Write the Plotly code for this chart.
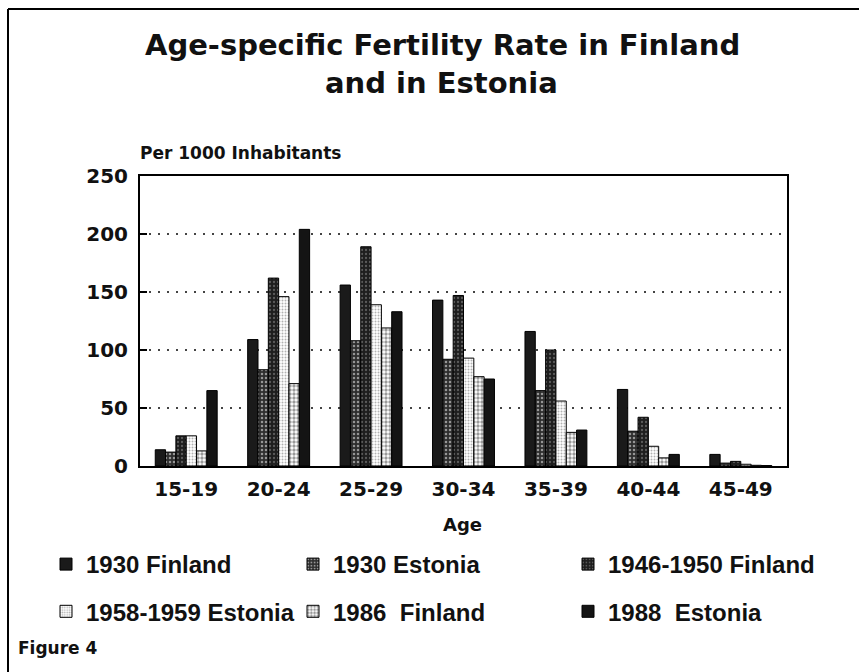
import plotly.graph_objects as go

ages = ["15-19", "20-24", "25-29", "30-34", "35-39", "40-44", "45-49"]
fin_1930 = [14, 109, 156, 143, 116, 66, 10]
est_1930 = [12, 83, 108, 92, 65, 30, 2.5]
fin_1946_1950 = [26, 162, 189, 147, 100, 42, 4]
est_1958_1959 = [26, 146, 139, 93, 56, 17, 1.5]
fin_1986 = [13, 71, 119, 77, 29, 7, 0.6]
est_1988 = [65, 204, 133, 75, 31, 10, 0.4]

series = [
    ("1930 Finland", fin_1930),
    ("1930 Estonia", est_1930),
    ("1946-1950 Finland", fin_1946_1950),
    ("1958-1959 Estonia", est_1958_1959),
    ("1986  Finland", fin_1986),
    ("1988  Estonia", est_1988),
]

styles = [
    dict(color="#1a1a1a"),
    dict(color="#3a3a3a", pattern=dict(shape=".", bgcolor="#2e2e2e", fgcolor="#ffffff", size=4, solidity=0.3)),
    dict(color="#222222", pattern=dict(shape=".", bgcolor="#1e1e1e", fgcolor="#9a9a9a", size=4, solidity=0.25)),
    dict(color="#dddddd", pattern=dict(shape=".", bgcolor="#ffffff", fgcolor="#666666", size=3, solidity=0.35)),
    dict(color="#888888", pattern=dict(shape=".", bgcolor="#ffffff", fgcolor="#333333", size=4, solidity=0.55)),
    dict(color="#141414"),
]
legend_ids = ["legend", "legend2", "legend3", "legend", "legend2", "legend3"]

FONT = "DejaVu Sans"
LFONT = "Liberation Sans"
fig = go.Figure()
for i, ((name, vals), st) in enumerate(zip(series, styles)):
    marker = dict(color=st["color"], line=dict(color="black", width=1))
    if "pattern" in st:
        marker["pattern"] = st["pattern"]
    fig.add_trace(go.Bar(
        x=ages, y=vals, name=name, marker=marker,
        legend=legend_ids[i], legendgroup="g%d" % i,
    ))

W, H = 859, 672
L, R, T, B = 140, 72, 176, 206
pw, ph = W - L - R, H - T - B

def px(x):
    return (x - L) / pw

def py(y):
    return (H - B - y) / ph

leg_common = dict(
    orientation="v", yanchor="top", xanchor="left",
    font=dict(family=LFONT, size=24, color="#111", weight="bold"),
    bgcolor="rgba(0,0,0,0)", tracegroupgap=13, traceorder="grouped",
)
fig.update_layout(
    width=W, height=H,
    margin=dict(l=L, r=R, t=T, b=B),
    paper_bgcolor="white", plot_bgcolor="white",
    barmode="group", bargap=0.33, bargroupgap=0,
    font=dict(family=FONT, color="#111"),
    legend=dict(x=px(46), y=py(542), **leg_common),
    legend2=dict(x=px(293), y=py(542), **leg_common),
    legend3=dict(x=px(568), y=py(542), **leg_common),
    xaxis=dict(
        showline=True, linecolor="black", linewidth=2, mirror=True,
        ticks="", tickfont=dict(family=FONT, size=20, color="#111", weight="bold"),
        ticklabelstandoff=4,
    ),
    yaxis=dict(
        range=[0, 250], tickvals=[0, 50, 100, 150, 200, 250],
        showline=True, linecolor="black", linewidth=2, mirror=True,
        ticks="inside", ticklen=7, tickwidth=2, tickcolor="black",
        showgrid=True, gridcolor="#444", gridwidth=2, griddash="2px,7px",
        tickfont=dict(family=FONT, size=20, color="#111", weight="bold"),
        ticklabelstandoff=6, zeroline=False,
    ),
)

fig.add_annotation(text="<b>Age-specific Fertility Rate in Finland</b>", xref="paper", yref="paper",
                   x=px(442), y=py(45), xanchor="center", yanchor="middle",
                   showarrow=False, font=dict(family=FONT, size=29, color="#111"))
fig.add_annotation(text="<b>and in Estonia</b>", xref="paper", yref="paper",
                   x=px(441), y=py(83), xanchor="center", yanchor="middle",
                   showarrow=False, font=dict(family=FONT, size=29, color="#111"))
fig.add_annotation(text="<b>Per 1000 Inhabitants</b>", xref="paper", yref="paper",
                   x=px(138), y=py(153), xanchor="left", yanchor="middle",
                   showarrow=False, font=dict(family=FONT, size=17, color="#111"))
fig.add_annotation(text="<b>Age</b>", xref="paper", yref="paper",
                   x=px(462), y=py(524), xanchor="center", yanchor="middle",
                   showarrow=False, font=dict(family=FONT, size=18, color="#111"))
fig.add_annotation(text="<b>Figure 4</b>", xref="paper", yref="paper",
                   x=px(16), y=py(648), xanchor="left", yanchor="middle",
                   showarrow=False, font=dict(family=FONT, size=17, color="#111"))

# outer frame lines
fig.add_shape(type="line", xref="paper", yref="paper", x0=px(8), x1=px(859), y0=py(9), y1=py(9),
              line=dict(color="black", width=2))
fig.add_shape(type="line", xref="paper", yref="paper", x0=px(8), x1=px(8), y0=py(9), y1=py(672),
              line=dict(color="black", width=2))

fig.write_html("out.html", config={"displayModeBar": False},
               post_script="document.body.style.margin='0';document.body.style.overflow='hidden';")
